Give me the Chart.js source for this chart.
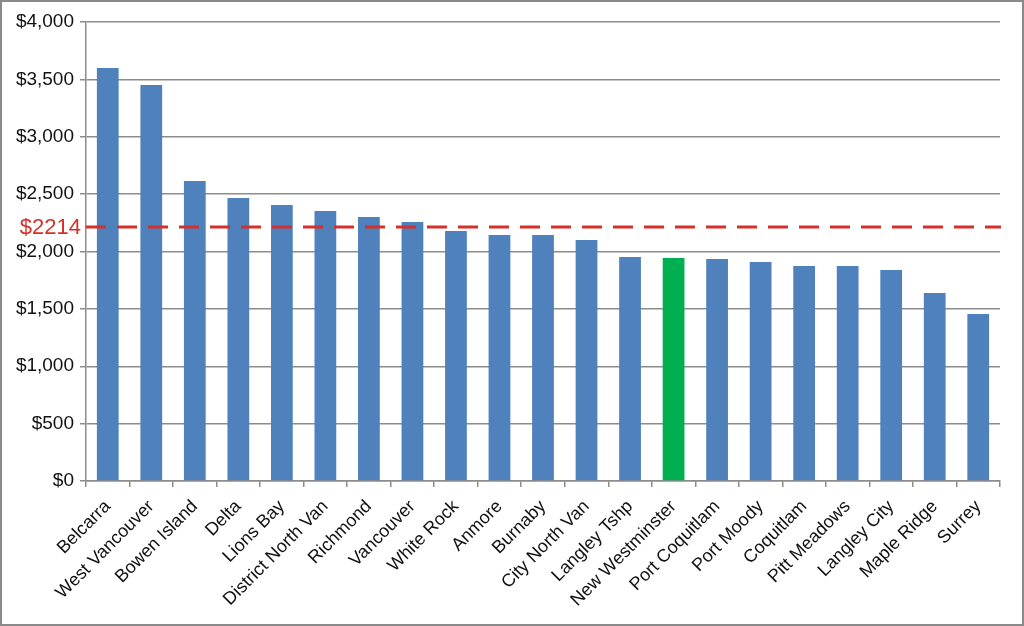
<!DOCTYPE html>
<html>
<head>
<meta charset="utf-8">
<script src="https://cdn.jsdelivr.net/npm/chart.js@4/dist/chart.umd.min.js"></script>
<style>
  html, body { margin: 0; padding: 0; background: #fff; }
  #wrap { width: 1024px; height: 626px; box-sizing: border-box; border: 2px solid #8a8a8a; position: relative; }
</style>
</head>
<body>
<div id="wrap"><canvas id="chart"></canvas></div>
<script>
// Per-municipality values
const municipalities = ['Belcarra', 'West Vancouver', 'Bowen Island', 'Delta', 'Lions Bay', 'District North Van',
  'Richmond', 'Vancouver', 'White Rock', 'Anmore', 'Burnaby', 'City North Van', 'Langley Tshp',
  'New Westminster', 'Port Coquitlam', 'Port Moody', 'Coquitlam', 'Pitt Meadows', 'Langley City',
  'Maple Ridge', 'Surrey'];
const amounts = [3600, 3450, 2615, 2466, 2405, 2353, 2301, 2257, 2179, 2144, 2144, 2100, 1952,
  1943, 1934, 1908, 1874, 1874, 1839, 1638, 1455];
const highlighted = 'New Westminster';
const averageValue = 2214;
const averageLabel = '$2214';
const yTicks = { min: 0, max: 4000, step: 500 };

const fmtDollar = (v) => '$' + v.toLocaleString('en-US');
const fontFamily = '"Liberation Sans", Arial, sans-serif';

// dashed red average line with its label left of the axis
const averageLinePlugin = {
  id: 'averageLine',
  afterDatasetsDraw(chart) {
    const { ctx, chartArea, scales } = chart;
    const y = scales.y.getPixelForValue(averageValue);
    ctx.save();
    ctx.strokeStyle = '#d6302a';
    ctx.lineWidth = 3;
    ctx.setLineDash([20, 11]);
    ctx.beginPath();
    ctx.moveTo(chartArea.left, y);
    ctx.lineTo(chartArea.right + 1, y);
    ctx.stroke();
    ctx.setLineDash([]);
    ctx.fillStyle = '#d6302a';
    ctx.font = '22px ' + fontFamily;
    ctx.textAlign = 'right';
    ctx.textBaseline = 'middle';
    ctx.fillText(averageLabel, chartArea.left - 5, y + 1);
    ctx.restore();
  }
};

new Chart(document.getElementById('chart'), {
  type: 'bar',
  data: {
    labels: municipalities,
    datasets: [{
      data: amounts,
      backgroundColor: municipalities.map(m => m === highlighted ? '#00b050' : '#4f81bd'),
      borderWidth: 0,
      barPercentage: 0.5,
      categoryPercentage: 1.0,
    }]
  },
  options: {
    responsive: true,
    maintainAspectRatio: false,
    animation: false,
    layout: { padding: { top: 20, right: 22, left: 0, bottom: 0 } },
    plugins: { legend: { display: false }, tooltip: { enabled: false } },
    scales: {
      x: {
        afterFit: (s) => { s.height = 143; },
        grid: { display: true, drawOnChartArea: false, drawTicks: true, tickLength: 6, offset: true, color: '#8c8c8c', lineWidth: 1.5 },
        border: { color: '#8c8c8c', width: 1.5 },
        ticks: { color: '#111', font: { family: fontFamily, size: 18 }, minRotation: 45, maxRotation: 45, autoSkip: false, padding: 9 }
      },
      y: {
        min: yTicks.min,
        max: yTicks.max,
        afterFit: (s) => { s.width = 84; },
        grid: { color: '#8c8c8c', lineWidth: 1.5, tickLength: 6 },
        border: { color: '#8c8c8c', width: 1.5 },
        ticks: { stepSize: yTicks.step, color: '#111', font: { family: fontFamily, size: 19 }, padding: 6, callback: (v) => fmtDollar(v) }
      }
    }
  },
  plugins: [averageLinePlugin]
});
</script>
</body>
</html>
